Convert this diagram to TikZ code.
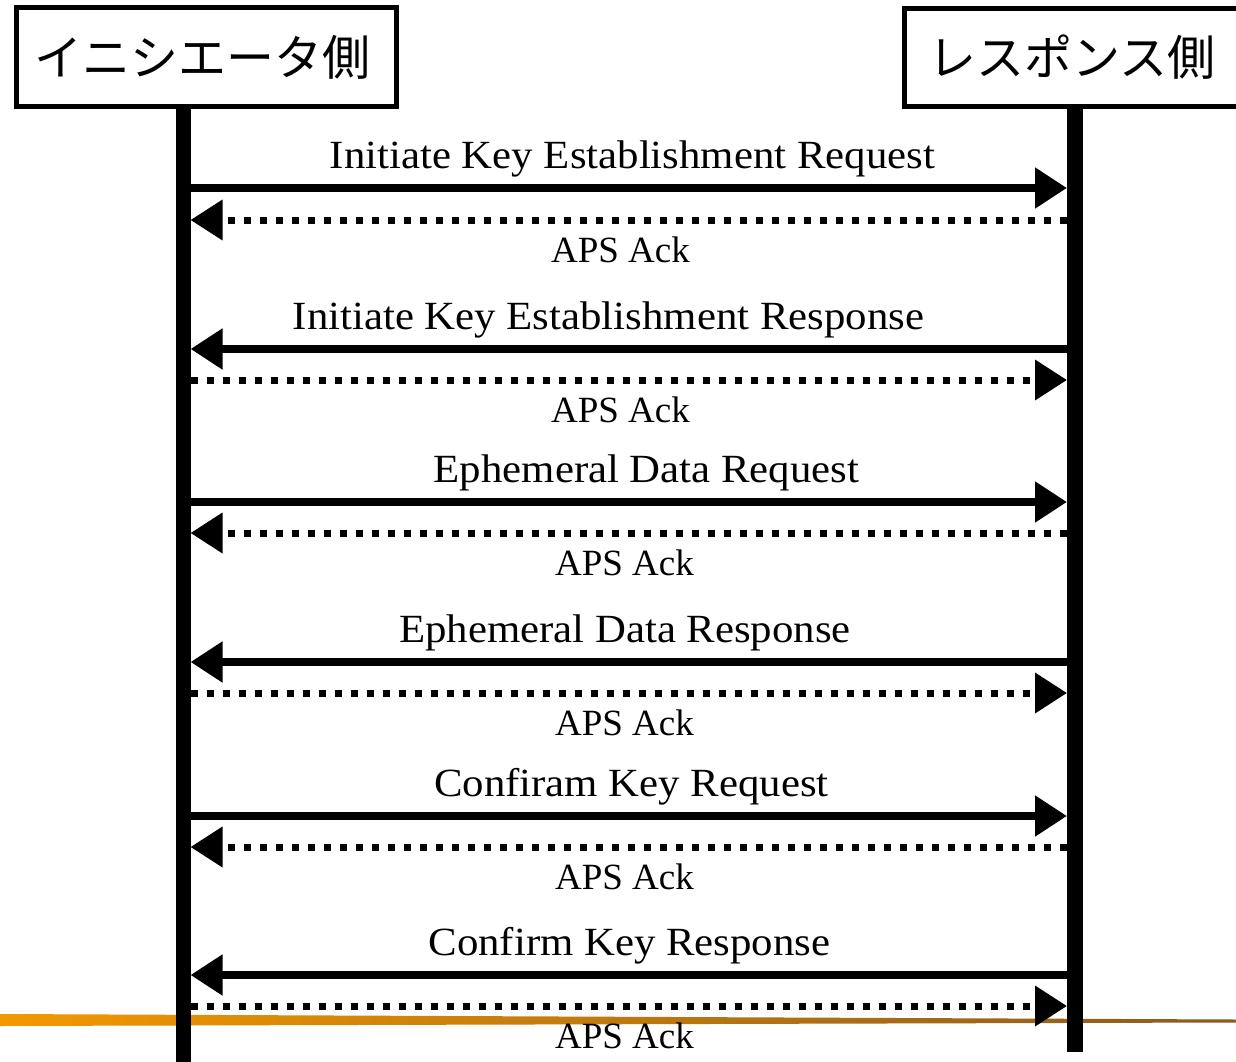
\documentclass[tikz,border=0pt]{standalone}
\usepackage{fontspec}
\setmainfont{Liberation Serif}
\newfontfamily\jpfont{Noto Sans CJK JP}
\newfontfamily\lblfont[FakeStretch=1.07]{Liberation Serif}
\usetikzlibrary{arrows.meta}
\definecolor{orA}{HTML}{F39800}
\definecolor{orB}{HTML}{8A5A20}
\begin{document}
\begin{tikzpicture}[x=1pt,y=-1pt,
  hbox/.style={draw=black,line width=5pt,fill=white,inner sep=0pt,
    font=\jpfont\fontsize{48}{56}\selectfont},
  life/.style={draw=black},
  solidmsg/.style={draw=black,line width=8pt,-{Triangle[length=32pt,width=39pt]}},
  ackmsg/.style={draw=black,line width=7pt,dash pattern=on 7pt off 9pt,
    -{Triangle[length=32pt,width=39pt]}},
  msgtext/.style={anchor=base,inner sep=0pt,font=\lblfont\fontsize{40}{48}\selectfont},
  acktext/.style={anchor=base,inner sep=0pt,font=\fontsize{37}{44}\selectfont}]
\useasboundingbox (0,0) rectangle (1236,1062);
\clip (0,0) rectangle (1236,1062);
% orange rule at the bottom
\shade[left color=orA,right color=orB] (0,1014) -- (1236,1019.5) -- (1236,1022.5) -- (0,1026) -- cycle;
% headers
\node[hbox,minimum width=380pt,minimum height=99pt] (init) at (206.5,57) {イニシエータ側\hspace*{9pt}};
\node[hbox,minimum width=341pt,minimum height=98pt] (resp) at (1075,57.5) {レスポンス側\hspace*{6pt}};
% lifelines
\coordinate (Lbot) at (183,1062);
\coordinate (Rbot) at (1075,1052);
\draw[life,line width=15pt] (init.south -| Lbot) -- (Lbot);
\draw[life,line width=16pt] (resp.south -| Rbot) -- (Rbot);
% message anchor points
\foreach \i/\ys/\yd in {1/188/220,2/349/380,3/502/533,4/662/693,5/816/847,6/975/1006}{
  \coordinate (L\i) at (190.5,\ys);
  \coordinate (R\i) at (1067,\ys);
  \coordinate (LA\i) at (190.5,\yd);
  \coordinate (RA\i) at (1067,\yd);
}
% messages
\draw[solidmsg] (L1) -- (R1);
\draw[ackmsg] (RA1) -- (LA1);
\draw[solidmsg] (R2) -- (L2);
\draw[ackmsg] (LA2) -- (RA2);
\draw[solidmsg] (L3) -- (R3);
\draw[ackmsg] (RA3) -- (LA3);
\draw[solidmsg] (R4) -- (L4);
\draw[ackmsg] (LA4) -- (RA4);
\draw[solidmsg] (L5) -- (R5);
\draw[ackmsg] (RA5) -- (LA5);
\draw[solidmsg] (R6) -- (L6);
\draw[ackmsg] (LA6) -- (RA6);
% labels
\node[msgtext] (m1) at (632.5,168) {Initiate Key Establishment Request};
\node[acktext] (a1) at (620.5,262) {APS Ack};
\node[msgtext] (m2) at (608.5,329) {Initiate Key Establishment Response};
\node[acktext] (a2) at (620.5,422) {APS Ack};
\node[msgtext] (m3) at (646.5,482) {Ephemeral Data Request};
\node[acktext] (a3) at (624.5,575) {APS Ack};
\node[msgtext] (m4) at (625,642) {Ephemeral Data Response};
\node[acktext] (a4) at (624.5,735) {APS Ack};
\node[msgtext] (m5) at (631.5,796) {Confiram Key Request};
\node[acktext] (a5) at (624.5,889) {APS Ack};
\node[msgtext] (m6) at (629.5,955) {Confirm Key Response};
\node[acktext] (a6) at (624.5,1048) {APS Ack};
\end{tikzpicture}
\end{document}
